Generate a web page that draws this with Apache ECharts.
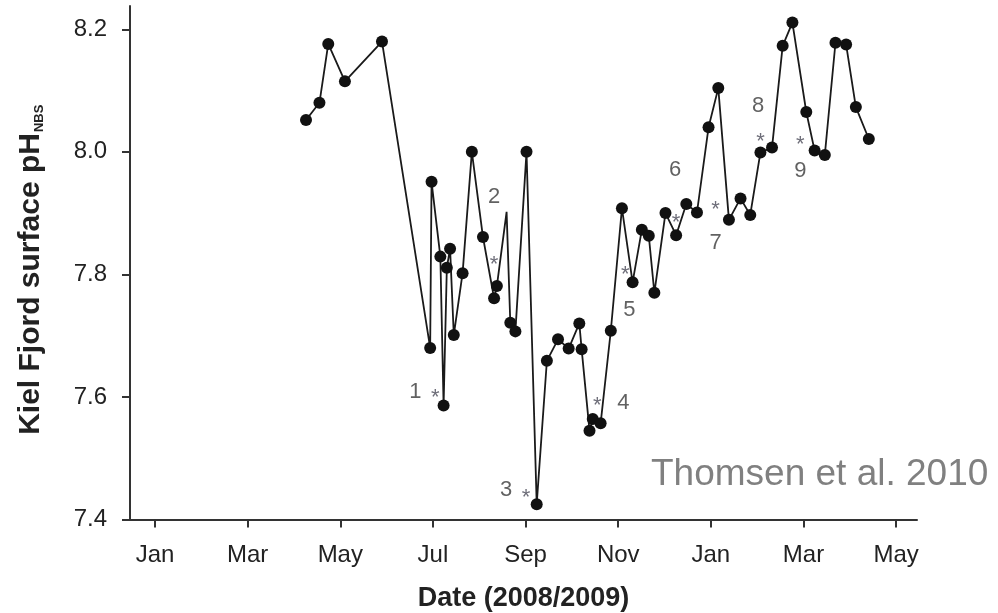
<!DOCTYPE html>
<html>
<head>
<meta charset="utf-8">
<script src="https://cdn.jsdelivr.net/npm/echarts@6/dist/echarts.min.js"></script>
<style>
html,body{margin:0;padding:0;background:#fff;}
#chart{width:998px;height:613px;}
</style>
</head>
<body>
<div id="chart"></div>
<script>
// x positions: months since 1 Jan 2008 (fractional)
const monthPos = [3.26,3.55,3.74,4.10,4.90,5.94,5.97,6.16,6.23,6.30,6.37,6.45,6.64,6.84,7.08,7.32,7.38,7.59,7.67,7.78,8.02,8.24,8.46,8.70,8.93,9.16,9.21,9.38,9.45,9.62,9.84,10.08,10.31,10.51,10.66,10.78,11.02,11.25,11.47,11.70,11.95,12.16,12.39,12.64,12.85,13.07,13.32,13.55,13.76,14.06,14.24,14.46,14.69,14.92,15.13,15.41];
const phValues = [8.052,8.080,8.176,8.115,8.180,7.680,7.951,7.829,7.586,7.811,7.842,7.701,7.802,8.000,7.861,7.761,7.781,7.902,7.721,7.707,8.000,7.425,7.659,7.694,7.679,7.720,7.678,7.545,7.564,7.557,7.708,7.908,7.787,7.873,7.863,7.770,7.900,7.864,7.915,7.901,8.040,8.104,7.889,7.924,7.897,7.999,8.007,8.173,8.211,8.065,8.002,7.995,8.178,8.175,8.073,8.021];
// index of the sample drawn without a marker
const unmarkedIdx = [17];

const xTickValues = [0,2,4,6,8,10,12,14,16];
const xTickLabels = ['Jan','Mar','May','Jul','Sep','Nov','Jan','Mar','May'];
const yTickValues = [7.4,7.6,7.8,8.0,8.2];

// event annotations: numbers and asterisks (data coordinates)
const eventNums  = ['1','2','3','4','5','6','7','8','9'];
const eventNumX  = [5.62,7.32,7.58,10.11,10.24,11.23,12.10,13.02,13.93];
const eventNumY  = [7.608,7.927,7.448,7.590,7.742,7.971,7.851,8.075,7.969];
const eventStarX = [6.05,7.32,8.01,9.55,10.15,11.25,12.10,13.07,13.93];
const eventStarY = [7.607,7.824,7.443,7.594,7.807,7.892,7.913,8.024,8.020];

const lineData = monthPos.map((m,i)=>{
  const d = {value:[m, phValues[i]]};
  if (unmarkedIdx.includes(i)) d.symbol = 'none';
  return d;
});
const numData = eventNums.map((n,i)=>({name:n, value:[eventNumX[i], eventNumY[i]]}));
const starData = eventNums.map((n,i)=>({name:'*', value:[eventStarX[i], eventStarY[i]]}));

const FONT = 'Liberation Sans, Arial, sans-serif';
const chart = echarts.init(document.getElementById('chart'));
const axisColor = '#333';
chart.setOption({
  animation:false,
  backgroundColor:'#fff',
  grid:{left:130, right:81, top:6, bottom:93.5, containLabel:false, outerBoundsMode:'none'},
  xAxis:{
    type:'value', min:-0.54, max:16.45,
    name:'Date (2008/2009)', nameLocation:'middle', nameGap:66,
    nameTextStyle:{fontFamily:FONT, fontWeight:'bold', fontSize:27, color:'#222'},
    splitLine:{show:false},
    axisLine:{show:true, onZero:false, lineStyle:{color:axisColor, width:2}},
    axisTick:{show:true, inside:false, length:8, customValues:xTickValues, lineStyle:{color:axisColor, width:2}},
    axisLabel:{customValues:xTickValues, margin:24, fontFamily:FONT, fontSize:24, color:'#222',
      formatter:(v)=>{const i = xTickValues.indexOf(Math.round(v)); return i>=0 ? xTickLabels[i] : '';}}
  },
  yAxis:{
    type:'value', min:7.4, max:8.238,
    name:'{main|Kiel Fjord surface pH}{sub|NBS}', nameLocation:'middle', nameGap:84, nameRotate:90,
    nameTextStyle:{
      rich:{
        main:{fontFamily:FONT, fontWeight:'bold', fontSize:30, color:'#222'},
        sub:{fontFamily:FONT, fontWeight:'bold', fontSize:13, color:'#222', verticalAlign:'bottom', padding:[12,14,0,1]}
      }
    },
    splitLine:{show:false},
    axisLine:{show:true, onZero:false, lineStyle:{color:axisColor, width:2}},
    axisTick:{show:true, inside:false, length:8, customValues:yTickValues, lineStyle:{color:axisColor, width:2}},
    axisLabel:{customValues:yTickValues, margin:23, fontFamily:FONT, fontSize:24, color:'#222',
      formatter:(v)=>v.toFixed(1)}
  },
  series:[
    {
      type:'line', data:lineData, symbol:'circle', symbolSize:12,
      lineStyle:{color:'#1a1a1a', width:1.8},
      itemStyle:{color:'#111'}, z:3
    },
    {
      type:'scatter', data:numData, symbol:'circle', symbolSize:1,
      itemStyle:{color:'rgba(0,0,0,0)'},
      label:{show:true, position:'inside', formatter:(p)=>p.name, fontFamily:FONT, fontSize:22, color:'#3a3a3a'}
    },
    {
      type:'scatter', data:starData, symbol:'circle', symbolSize:1,
      itemStyle:{color:'rgba(0,0,0,0)'},
      label:{show:true, position:'inside', formatter:'*', offset:[0,5], fontFamily:FONT, fontSize:22, color:'#4a4a58'}
    }
  ],
  graphic:[{
    type:'text', left:651, top:456,
    style:{text:'Thomsen et al. 2010', fontFamily:FONT, fontSize:37, fill:'#808080'}
  }]
});
</script>
</body>
</html>
